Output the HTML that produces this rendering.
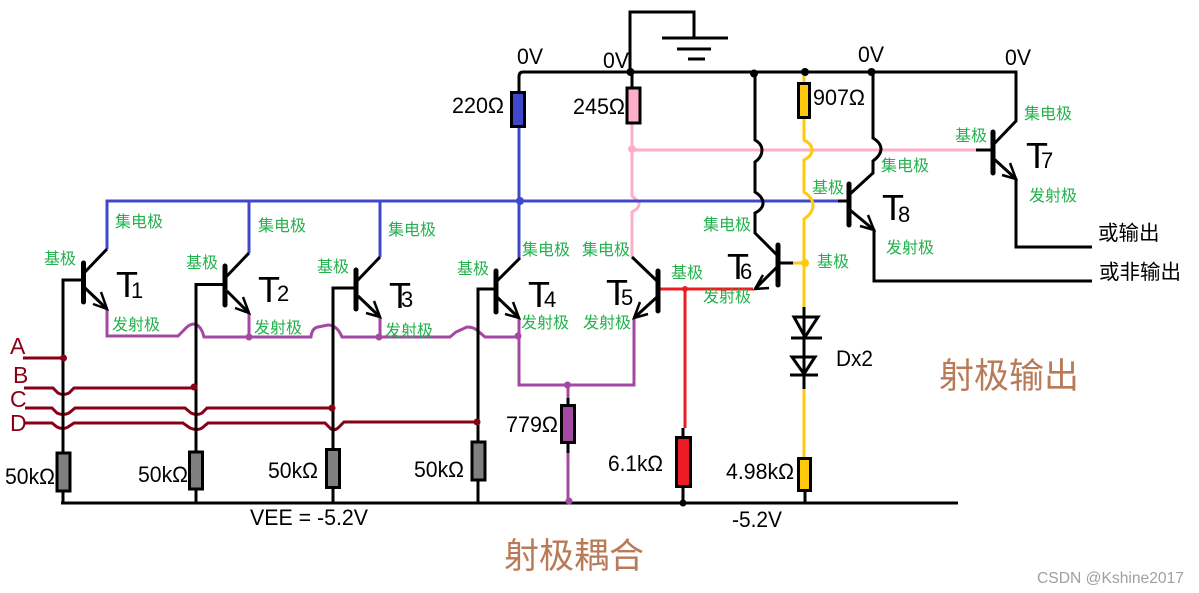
<!DOCTYPE html>
<html lang="zh">
<head>
<meta charset="utf-8">
<title>ECL</title>
<style>
html,body{margin:0;padding:0;background:#fff;width:1199px;height:593px;overflow:hidden}
svg{display:block}
text{font-family:"Liberation Sans","Noto Sans CJK SC",sans-serif}
.g text{font-size:16px;fill:#22b14c}
.k text{font-size:22px;fill:#000}
.k text.c{font-size:20.500px}
.m text{font-size:23px;fill:#880015}
.t{font-size:36px;fill:#000}
.s{font-size:22px;fill:#000}
.o{font-size:35px;fill:#b97a57}
</style>
</head>
<body>
<svg width="1199" height="593" viewBox="0 0 1199 593" xmlns="http://www.w3.org/2000/svg">
<rect width="1199" height="593" fill="#fff"/>

<g fill="none" stroke-width="3">
  <!-- pink -->
  <path stroke="#ffaec9" d="M632 124V196Q640 202 639 205Q638 209 632 212V257M632 150H976"/>
  <!-- blue -->
  <path stroke="#3f48cc" d="M107 249V201H838M249 253V201M380 257V201M519 128V258"/>
  <!-- purple -->
  <path stroke="#a349a4" d="M107 309V336H178L184 330Q189 324 194 324Q201 325 204 337H311Q312 328 318 327L328 325Q337 325 342 337H450L456 332L467 327Q474 327 478 331L485 337H519M249 313V337M380 317V337M519 318V385H634V318M568 385V404M568 453V501M204 337H311"/>
  <!-- red -->
  <path stroke="#ed1c24" d="M660 289H753M685 289V428"/>
  <!-- yellow -->
  <path stroke="#ffc90e" d="M804 76V83M804 118V140Q812 144 812 150Q812 156 804 160V192Q813 198 813 205Q813 213 804 219V307M793 263H805M804 389V457"/>
</g>

<g fill="none" stroke="#880015" stroke-width="3">
  <path d="M23 358H63"/>
  <path d="M24 388H53L58 393Q63 396 69 393L74 388H194"/>
  <path d="M25 408H52L57 413Q63 416 69 413L75 408H185L191 413Q197 416 202 413L207 408H332"/>
  <path d="M25 423H52L57 427Q63 430 68 427L74 423H183L190 428Q197 431 202 428L208 423H325L331 429Q334 431 338 428L344 422H478"/>
</g>

<g fill="none" stroke="#000" stroke-width="3">
  <!-- ground and top rail -->
  <path d="M630 72V12H694V38M662 38H728M677 49H711M688 59H705"/>
  <path d="M519 91V77Q519 72 523 72H1016V121L993 145"/>
  <path d="M632 72V87"/>
  <!-- bottom rail -->
  <path d="M61 503H958"/>
  <path d="M63 492V503M196 490V503M333 489V503M478 481V503M568 444V453M568 398V404M683 428V436M683 488V503M805 491V503"/>
  <!-- T1 -->
  <path d="M84 273L107 249M84 287L107 309M83 280H63V452"/>
  <!-- T2 -->
  <path d="M226 277L249 253M227 291L249 313M225 284.500H196V451"/>
  <!-- T3 -->
  <path d="M357 281L380 257M358 296L380 317M356 288H333V448"/>
  <!-- T4 -->
  <path d="M497 281L520 258M497 297L519 318M496 289H478V441"/>
  <!-- T5 -->
  <path d="M632 257L657 281M657 297L634 318"/>
  <!-- T6 -->
  <path d="M755 72V140Q762 144 762 150Q762 157 755 162V192Q763 197 763 203Q763 209 755 213V233L778 256M778 266L755 289M778 263H793"/>
  <!-- T7 -->
  <path d="M976 150H993M993 158L1016 179V247H1092"/>
  <!-- T8 -->
  <path d="M838 201H849M873 72V138Q881 143 881 149Q881 155 873 161V173L850 194M850 210L874 230V281H1092"/>
  <!-- diodes -->
  <path d="M804 307V389M794 317H818L805 337ZM791 338H822M792 357H815L804 374ZM790 375H818"/>
</g>

<!-- transistor bars -->
<g stroke="#000" stroke-width="5" stroke-linecap="round">
  <path d="M83.500 263V302M225 266V305M356 270V309M496 271V312M658 271V311M778 245V285M993 132V173M849 184V225"/>
</g>

<!-- arrowheads -->
<g fill="none" stroke="#000" stroke-width="2.500">
  <path d="M93 304L107 309L101 292"/>
  <path d="M235 308L249 313L243 297"/>
  <path d="M366 313L380 317L374 301"/>
  <path d="M505 314L519 318L513 302"/>
  <path d="M648 314L634 318L640 302"/>
  <path d="M769 288L755 289L763 275"/>
  <path d="M1002 175L1016 179L1010 163"/>
  <path d="M860 226L874 230L868 215"/>
</g>

<!-- resistors -->
<g stroke="#000" stroke-width="3">
  <rect x="57" y="453" width="13" height="38" fill="#7f7f7f"/>
  <rect x="189.500" y="452" width="13" height="37" fill="#7f7f7f"/>
  <rect x="326.500" y="449.500" width="13" height="38" fill="#7f7f7f"/>
  <rect x="472" y="442" width="13" height="38" fill="#7f7f7f"/>
  <rect x="561.500" y="405.500" width="13" height="37" fill="#a349a4"/>
  <rect x="676.500" y="437.500" width="14" height="49" fill="#ed1c24"/>
  <rect x="798.500" y="458.500" width="12" height="32" fill="#ffc90e"/>
  <rect x="511.500" y="92.500" width="13" height="34" fill="#3f48cc"/>
  <rect x="627" y="88" width="13" height="35" fill="#ffaec9"/>
  <rect x="798.500" y="83.500" width="11" height="34" fill="#ffc90e"/>
</g>

<!-- junction dots -->
<g fill="#000">
  <circle cx="630.500" cy="72" r="4"/><circle cx="754" cy="73.500" r="4"/><circle cx="805" cy="72" r="4"/><circle cx="871.500" cy="72" r="4"/><circle cx="683" cy="503" r="3.500"/>
</g>
<g fill="#880015">
  <circle cx="63.500" cy="358" r="3.500"/><circle cx="194" cy="387" r="3.500"/><circle cx="332" cy="408" r="3.500"/><circle cx="477" cy="422" r="3.500"/>
</g>
<g fill="#a349a4">
  <circle cx="249" cy="337" r="3.500"/><circle cx="379" cy="337" r="3.500"/><circle cx="518" cy="336" r="3.500"/><circle cx="567.500" cy="385" r="3.500"/><circle cx="569" cy="501" r="3.500"/>
</g>
<circle cx="520" cy="201" r="4" fill="#3f48cc"/>
<circle cx="632" cy="149" r="4" fill="#ffaec9"/>
<circle cx="685" cy="289" r="3" fill="#ed1c24"/>
<circle cx="805" cy="263" r="4" fill="#ffc90e"/>

<!-- green labels -->
<g class="g">
  <text x="115" y="227">集电极</text>
  <text x="258" y="231">集电极</text>
  <text x="388" y="235">集电极</text>
  <text x="522" y="255">集电极</text>
  <text x="582" y="255">集电极</text>
  <text x="703" y="230">集电极</text>
  <text x="881" y="171">集电极</text>
  <text x="1024" y="119">集电极</text>
  <text x="44" y="264">基极</text>
  <text x="186" y="268">基极</text>
  <text x="317" y="272">基极</text>
  <text x="457" y="274">基极</text>
  <text x="671" y="278">基极</text>
  <text x="817" y="267">基极</text>
  <text x="812" y="193">基极</text>
  <text x="955" y="141">基极</text>
  <text x="112" y="330">发射极</text>
  <text x="254" y="333">发射极</text>
  <text x="385" y="336">发射极</text>
  <text x="521" y="328">发射极</text>
  <text x="583" y="328">发射极</text>
  <text x="703" y="302">发射极</text>
  <text x="886" y="253">发射极</text>
  <text x="1029" y="201">发射极</text>
</g>

<!-- transistor names -->
<g>
  <text class="t" x="116" y="297">T</text><text class="s" x="131" y="298">1</text>
  <text class="t" x="258" y="302">T</text><text class="s" x="277" y="301">2</text>
  <text class="t" x="389" y="308">T</text><text class="s" x="401" y="307">3</text>
  <text class="t" x="528" y="307">T</text><text class="s" x="544" y="307">4</text>
  <text class="t" x="606" y="305">T</text><text class="s" x="621" y="305">5</text>
  <text class="t" x="727" y="279">T</text><text class="s" x="740" y="279">6</text>
  <text class="t" x="882" y="220">T</text><text class="s" x="898" y="222">8</text>
  <text class="t" x="1026" y="168">T</text><text class="s" x="1041" y="168">7</text>
</g>

<!-- black labels -->
<g class="k">
  <text x="517" y="64" textLength="26" lengthAdjust="spacingAndGlyphs">0V</text>
  <text x="603" y="68" textLength="26" lengthAdjust="spacingAndGlyphs">0V</text>
  <text x="858" y="62" textLength="26" lengthAdjust="spacingAndGlyphs">0V</text>
  <text x="1005" y="65" textLength="26" lengthAdjust="spacingAndGlyphs">0V</text>
  <text x="452" y="113" textLength="52" lengthAdjust="spacingAndGlyphs">220Ω</text>
  <text x="573" y="114" textLength="52" lengthAdjust="spacingAndGlyphs">245Ω</text>
  <text x="813" y="105" textLength="52" lengthAdjust="spacingAndGlyphs">907Ω</text>
  <text x="5" y="484" textLength="50" lengthAdjust="spacingAndGlyphs">50kΩ</text>
  <text x="138" y="482" textLength="50" lengthAdjust="spacingAndGlyphs">50kΩ</text>
  <text x="268" y="478" textLength="50" lengthAdjust="spacingAndGlyphs">50kΩ</text>
  <text x="414" y="477" textLength="50" lengthAdjust="spacingAndGlyphs">50kΩ</text>
  <text x="506" y="432" textLength="52" lengthAdjust="spacingAndGlyphs">779Ω</text>
  <text x="608" y="471" textLength="55" lengthAdjust="spacingAndGlyphs">6.1kΩ</text>
  <text x="726" y="479" textLength="68" lengthAdjust="spacingAndGlyphs">4.98kΩ</text>
  <text x="250" y="525" textLength="118" lengthAdjust="spacingAndGlyphs">VEE = -5.2V</text>
  <text x="732" y="527" textLength="50" lengthAdjust="spacingAndGlyphs">-5.2V</text>
  <text x="836" y="366" textLength="37" lengthAdjust="spacingAndGlyphs">Dx2</text>
  <text class="c" x="1098" y="240">或输出</text>
  <text class="c" x="1099" y="279">或非输出</text>
</g>

<g class="m">
  <text x="10" y="354">A</text>
  <text x="13" y="383">B</text>
  <text x="10" y="407">C</text>
  <text x="10" y="431">D</text>
</g>

<text class="o" x="939" y="388">射极输出</text>
<text class="o" x="504" y="568">射极耦合</text>
<text x="1037" y="583" font-size="16" fill="#a0a0a0" textLength="147" lengthAdjust="spacingAndGlyphs">CSDN @Kshine2017</text>
</svg>
</body>
</html>
